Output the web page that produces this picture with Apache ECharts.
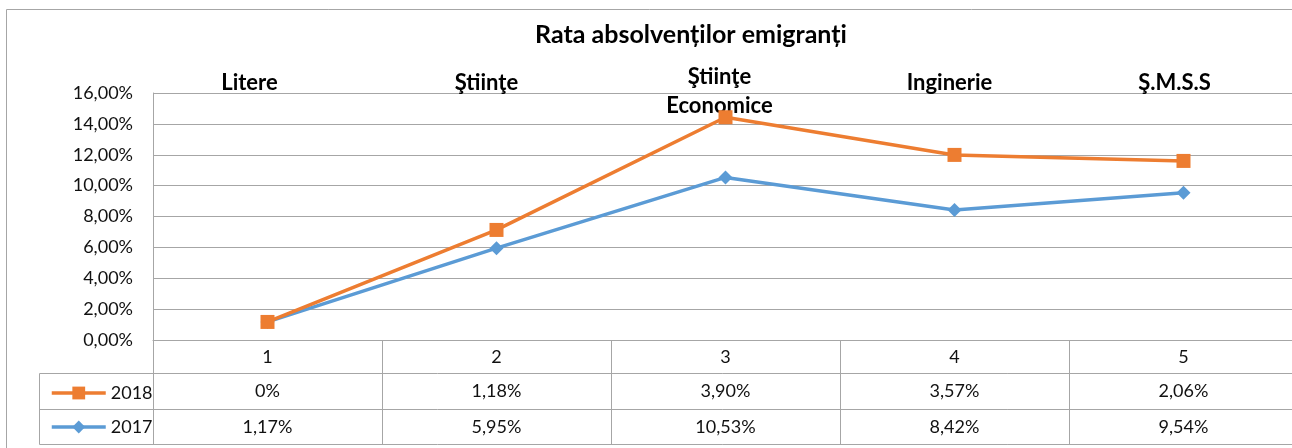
<!DOCTYPE html>
<html>
<head>
<meta charset="utf-8">
<script src="https://cdn.jsdelivr.net/npm/echarts@6/dist/echarts.min.js"></script>
<style>
  html, body { margin: 0; padding: 0; background: #fff; }
  #chart { width: 1292px; height: 448px; }
</style>
</head>
<body>
<div id="chart"></div>
<script>
// data
const groups = ['Litere', 'Ştiinţe', 'Ştiinţe\nEconomice', 'Inginerie', 'Ş.M.S.S'];
const rowNumbers = ['1', '2', '3', '4', '5'];
const rate2017 = [1.17, 5.95, 10.53, 8.42, 9.54];
const rate2018 = [0, 1.18, 3.90, 3.57, 2.06];
const yTicks = [0, 2, 4, 6, 8, 10, 12, 14, 16];

const FONT = 'Lato, "Noto Sans", sans-serif';
const GRAY = '#a6a6a6';
const ORANGE = '#ED7D31';
const BLUE = '#5B9BD5';

// the top labels sit a bit left of the category centre in the original;
// single-line ones are lifted so that they line up with the first line of the two-line one
const topLabelPad = [[0, 36, 23, 0], [0, 20, 23, 0], [0, 12, 0, 0], [0, 10, 23, 0], [0, 18, 23, 0]];

const pct = v => v === 0 ? '0%' : v.toFixed(2).replace('.', ',') + '%';

const chart = echarts.init(document.getElementById('chart'), null, { renderer: 'canvas' });

const tableAxis = (labels, offset, margin) => ({
  type: 'category',
  gridIndex: 0,
  position: 'bottom',
  offset: offset,
  data: labels,
  axisLine: { show: true, lineStyle: { color: GRAY, width: 1 } },
  axisTick: { show: false },
  axisLabel: { show: true, margin: margin, verticalAlign: 'middle', color: '#111', fontSize: 18, fontFamily: FONT },
  splitLine: { show: false }
});

const option = {
  backgroundColor: '#fff',
  animation: false,
  title: {
    text: 'Rata absolvenților emigranți',
    left: 686,
    textAlign: 'center',
    top: 17,
    textStyle: { fontFamily: FONT, fontSize: 25, fontWeight: 'bold', color: '#000' }
  },
  legend: {
    orient: 'vertical',
    left: 45,
    top: 379,
    itemWidth: 54,
    itemHeight: 16,
    itemGap: 16,
    data: ['2018', '2017'],
    lineStyle: { width: 3.5 },
    textStyle: { fontFamily: FONT, fontSize: 18, color: '#111' }
  },
  grid: { left: 153, top: 93, width: 1145, height: 247, outerBoundsMode: 'none' },
  xAxis: [
    {
      type: 'category',
      position: 'bottom',
      data: rowNumbers,
      axisLine: { show: true, lineStyle: { color: GRAY } },
      axisTick: { show: true, alignWithLabel: false, length: 104, lineStyle: { color: GRAY } },
      axisLabel: { margin: 17, verticalAlign: 'middle', color: '#111', fontSize: 18, fontFamily: FONT },
      splitLine: { show: false }
    },
    tableAxis(rate2018.map(pct), 33, 18),
    tableAxis(rate2017.map(pct), 69, 18),
    tableAxis(rowNumbers.map(() => ''), 104, 10),
    {
      type: 'category',
      position: 'top',
      data: groups.map((g, i) => ({ value: g, textStyle: { padding: topLabelPad[i] } })),
      axisLine: { show: false },
      axisTick: { show: false },
      axisLabel: {
        margin: -27, verticalAlign: 'bottom', lineHeight: 29,
        color: '#000', fontSize: 22, fontWeight: 'bold', fontFamily: FONT
      },
      splitLine: { show: false }
    }
  ],
  yAxis: {
    type: 'value',
    min: yTicks[0],
    max: yTicks[yTicks.length - 1],
    interval: 2,
    axisLine: { show: true, lineStyle: { color: GRAY } },
    axisTick: { show: false },
    axisLabel: {
      margin: 20, color: '#111', fontSize: 18, fontFamily: FONT,
      formatter: v => v.toFixed(2).replace('.', ',') + '%'
    },
    splitLine: { show: true, lineStyle: { color: GRAY, width: 1 } }
  },
  series: [
    {
      name: '2017',
      type: 'line',
      stack: 'total',
      data: rate2017,
      symbol: 'diamond',
      symbolSize: 14,
      lineStyle: { color: BLUE, width: 3.5 },
      itemStyle: { color: BLUE },
      z: 2
    },
    {
      name: '2018',
      type: 'line',
      stack: 'total',
      data: rate2018,
      symbol: 'rect',
      symbolSize: 14,
      lineStyle: { color: ORANGE, width: 3.5 },
      itemStyle: { color: ORANGE },
      z: 3
    }
  ],
  graphic: [
    {
      type: 'rect',
      shape: { x: 6.5, y: 9.5, width: 1300, height: 460 },
      style: { fill: null, stroke: GRAY, lineWidth: 1 },
      silent: true, z: -1
    },
    {
      type: 'polyline',
      shape: { points: [[153, 373.5], [39.5, 373.5], [39.5, 444.5], [153, 444.5]] },
      style: { fill: null, stroke: GRAY, lineWidth: 1 },
      silent: true
    },
    {
      type: 'line',
      shape: { x1: 39.5, y1: 409.5, x2: 153, y2: 409.5 },
      style: { stroke: GRAY, lineWidth: 1 },
      silent: true
    }
  ]
};

chart.setOption(option);
</script>
</body>
</html>
